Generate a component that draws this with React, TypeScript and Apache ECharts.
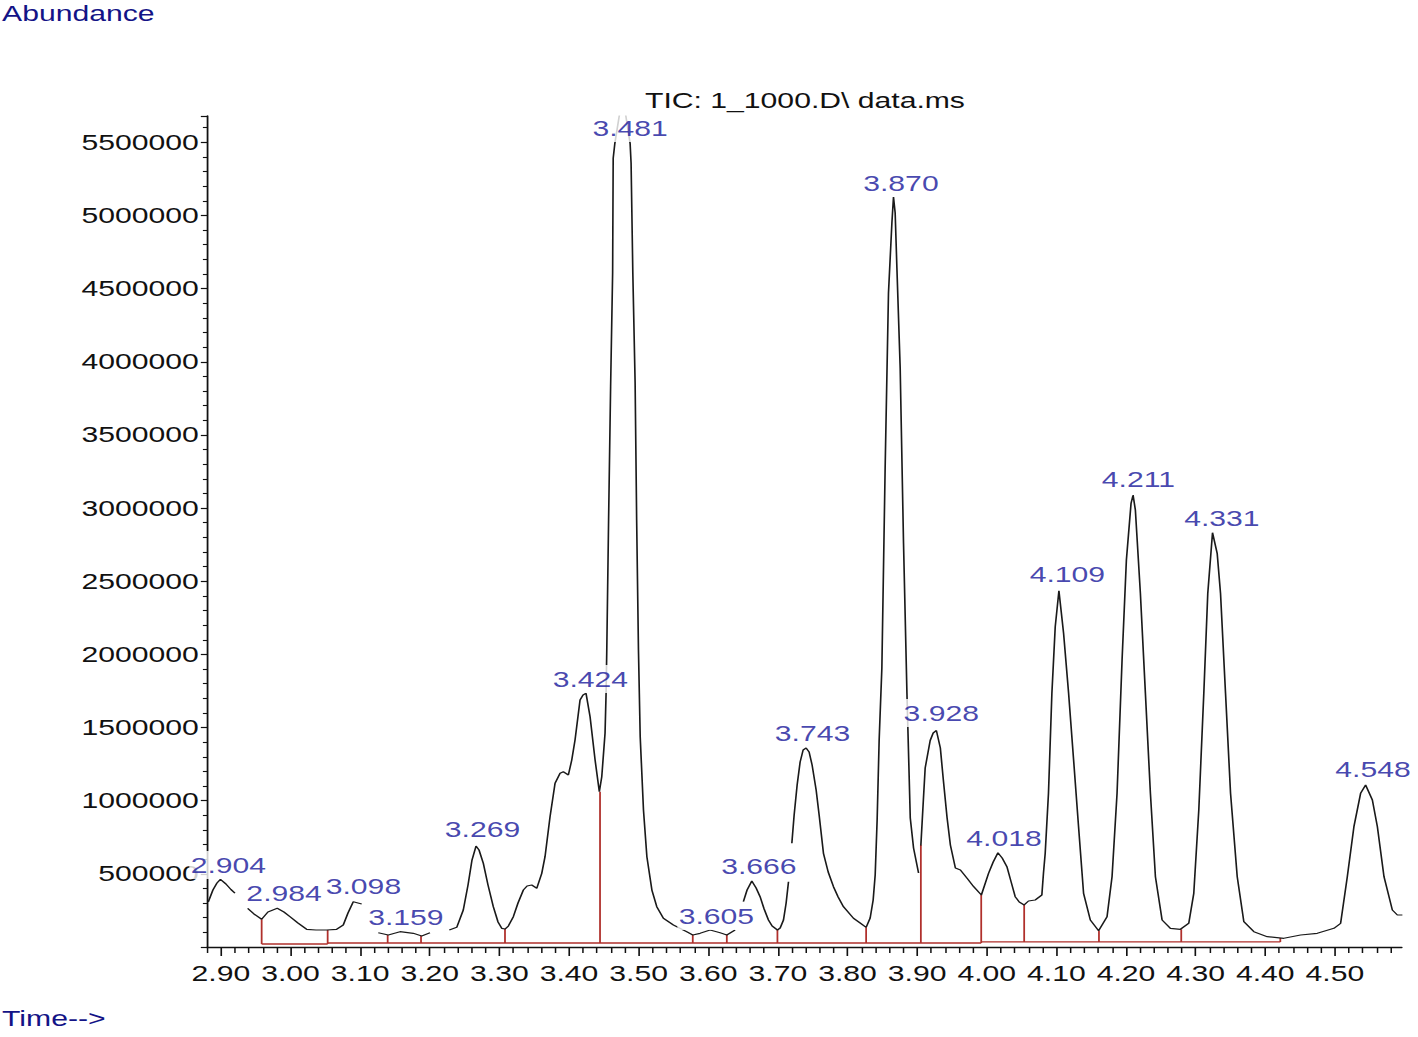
import React, { useEffect, useRef } from "react";
import * as echarts from "echarts";

// ---------- data ----------
const xMajorTicks = [2.9, 3.0, 3.1, 3.2, 3.3, 3.4, 3.5, 3.6, 3.7, 3.8, 3.9, 4.0, 4.1, 4.2, 4.3, 4.4, 4.5];
const yTickStep = 500000;

// chromatogram trace, separate drawn pieces [time, abundance]
const trace2904: [number, number][] = [
  [2.8818, 307600], [2.8885, 389600], [2.8943, 437400], [2.8993, 462700], [2.9072, 430600], [2.9144, 393000], [2.9201, 369000],
];
const trace2984: [number, number][] = [
  [2.9384, 264500], [2.9474, 225600], [2.9585, 189300], [2.9675, 239200], [2.9809, 264500], [2.9905, 239200], [2.9991, 207100],
  [3.0106, 164000], [3.0231, 121000], [3.0365, 116200], [3.0519, 116200], [3.0662, 121000], [3.0757, 150400], [3.0825, 232400],
  [3.0901, 309600], [3.1022, 293900],
];
const trace3159: [number, number][] = [
  [3.126, 97700], [3.1404, 82000], [3.1572, 104600], [3.1763, 93600], [3.1884, 75200], [3.2003, 97700],
];
const trace3269: [number, number][] = [
  [3.228, 116200], [3.2387, 134600], [3.2481, 252900], [3.2549, 423800], [3.2606, 594600], [3.2664, 690300], [3.2707, 663000],
  [3.2769, 572100], [3.2836, 423800], [3.2912, 275500], [3.298, 170900], [3.3033, 127800], [3.308, 123000], [3.3128, 143500],
  [3.32, 207100], [3.3267, 300700], [3.3344, 389600], [3.3397, 416900], [3.3464, 423800], [3.3536, 401200], [3.3608, 503700],
  [3.3655, 617200], [3.3727, 890600], [3.3799, 1118900], [3.3871, 1187200], [3.3918, 1198200], [3.399, 1175600], [3.4039, 1278100],
  [3.4086, 1414800], [3.4158, 1688200], [3.4201, 1722400], [3.4244, 1734000], [3.4302, 1574100], [3.4374, 1278100], [3.4435, 1061500],
  [3.447, 1164000], [3.4517, 1460600], [3.4532, 1734000], [3.4542, 2030000], [3.4568, 2918500], [3.4597, 3829700], [3.4626, 4606800],
  [3.4634, 5390800], [3.4658, 5493300], [3.4769, 5823400], [3.4877, 5493300], [3.4891, 5358600], [3.4916, 4606800], [3.4949, 3854900],
  [3.4971, 2918500], [3.4997, 2030000], [3.5022, 1437400], [3.5069, 936400], [3.5118, 617200], [3.519, 389600], [3.526, 275500],
  [3.5355, 196200], [3.5499, 150400], [3.5691, 104600], [3.5777, 82000], [3.5882, 93600], [3.6026, 116200], [3.617, 97700],
  [3.6266, 82000], [3.6385, 116200],
];
const trace3666: [number, number][] = [
  [3.6504, 309600], [3.6557, 389600], [3.6625, 451100], [3.6687, 403300], [3.6744, 343800], [3.6802, 259700], [3.6864, 184500],
  [3.6917, 143500], [3.6993, 116200], [3.7032, 129900], [3.708, 184500], [3.7118, 300700], [3.7152, 446300],
];
const trace3743: [number, number][] = [
  [3.72, 708800], [3.7233, 902200], [3.7276, 1107300], [3.7319, 1264500], [3.7362, 1346500], [3.7405, 1360200], [3.7448, 1332800],
  [3.7491, 1244000], [3.7549, 1073100], [3.7592, 902200], [3.7654, 640400], [3.7722, 512600], [3.7798, 412200], [3.7865, 341800],
  [3.7941, 275500], [3.8085, 196200], [3.8181, 164000], [3.8267, 134600], [3.8325, 198200], [3.8368, 321200], [3.8397, 492100],
  [3.8425, 868000], [3.8454, 1414800], [3.8493, 1907000], [3.854, 3274000], [3.8588, 4470000], [3.8637, 4948500], [3.866, 5126000],
  [3.8684, 5016900], [3.8709, 4641000], [3.8756, 3957500], [3.8804, 2761300], [3.8853, 1736000], [3.8901, 881700], [3.8948, 676700],
  [3.902, 505800],
];
const trace3928: [number, number][] = [
  [3.9053, 693800], [3.9089, 1004700], [3.9115, 1223500], [3.9187, 1411400], [3.923, 1462700], [3.9276, 1479800], [3.9333, 1360200],
  [3.9376, 1141400], [3.943, 881700], [3.9477, 697200], [3.9549, 540000], [3.9621, 526300], [3.9717, 469600], [3.9812, 412200],
  [3.9922, 355400], [4.0025, 503700], [4.0092, 581000], [4.016, 644500], [4.0221, 608300], [4.0289, 548900], [4.035, 444300],
  [4.0408, 343800], [4.0466, 307600], [4.0537, 287100], [4.0599, 314400], [4.0695, 321200], [4.0791, 355400], [4.0814, 503700],
  [4.0839, 640400], [4.0886, 1050500], [4.0935, 1734000], [4.0983, 2189200], [4.1036, 2435300], [4.1103, 2144100], [4.1175, 1734000],
  [4.1247, 1278100], [4.1318, 822200], [4.139, 367000], [4.1487, 184500], [4.1606, 111400], [4.1727, 207100], [4.1799, 480500],
  [4.1871, 1050500], [4.1943, 1961600], [4.2005, 2645100], [4.2072, 3032700], [4.2101, 3089400], [4.2134, 2986900], [4.2206, 2417500],
  [4.2278, 1734000], [4.235, 1050500], [4.2422, 480500], [4.2518, 184500], [4.2637, 127800], [4.2781, 121000], [4.2901, 162000],
  [4.2973, 367000], [4.3045, 936400], [4.3117, 1734000], [4.3174, 2417500], [4.3242, 2831700], [4.3309, 2690900], [4.3357, 2417500],
  [4.3429, 1734000], [4.3501, 1050500], [4.3597, 480500], [4.3692, 172900], [4.3836, 104600], [4.4028, 70400], [4.4267, 59500],
  [4.4507, 82000], [4.4747, 93600], [4.4986, 127800], [4.5082, 162000], [4.5178, 480500], [4.5273, 822200], [4.5369, 1050500],
  [4.5441, 1107300], [4.5538, 1004700], [4.561, 822200], [4.5705, 480500], [4.5825, 252900], [4.5897, 218700], [4.5969, 218700],
];
const traceSegments = [trace2904, trace2984, trace3159, trace3269, trace3666, trace3743, trace3928];

// integration baselines [from, to, abundance] and drop lines [time, top abundance]
const baselineSegments: [number, number, number][] = [
  [2.9585, 3.0533, 20500], [3.0533, 3.992, 27300], [3.992, 4.4216, 35000],
];
const dropLines: [number, number][] = [
  [2.9585, 189300], [3.0533, 116200], [3.1395, 82000], [3.1874, 75200], [3.308, 123000], [3.4445, 1061500],
  [3.5777, 82000], [3.6266, 82000], [3.6993, 116200], [3.8267, 134600], [3.9053, 697200], [3.992, 355400],
  [4.0537, 287100], [4.1611, 111400], [4.2793, 121000], [4.4216, 61500],
];

// peak retention-time labels
const peakNames = ["2.904", "2.984", "3.098", "3.159", "3.269", "3.424", "3.481", "3.605", "3.666", "3.743", "3.870", "3.928", "4.018", "4.109", "4.211", "4.331", "4.548"];
const peakTimes = [2.904, 2.984, 3.098, 3.159, 3.269, 3.424, 3.481, 3.605, 3.666, 3.743, 3.870, 3.928, 4.018, 4.109, 4.211, 4.331, 4.548];
const peakHeights = [454500, 263100, 311000, 99100, 700600, 1725800, 5491900, 105900, 447700, 1356700, 5116000, 1493400, 639100, 2443500, 3092800, 2826300, 1110700];

// ---------- layout ----------
const W = 1418;
const H = 1037;
const S = 1.37; // horizontal stretch of the original plot
const IW = W / S;
const FONT = 'Arial, "Liberation Sans", Helvetica, sans-serif';
const LABEL_BLUE = "#17179a";
const TITLE_BLUE = "#131386";
const RED = "#b0302c";

function buildOption() {
  const curve: any[] = [];
  traceSegments.forEach((seg, i) => {
    if (i > 0) curve.push([seg[0][0] - 0.0005, null]);
    seg.forEach((p) => curve.push(p));
  });

  const red: any[] = [];
  baselineSegments.forEach(([a, b, v]) => {
    red.push([a, v], [b, v], [b + 0.00001, null]);
  });
  dropLines.forEach(([t, top]) => {
    const bases = baselineSegments.filter(([a, b]) => t >= a - 1e-6 && t <= b + 1e-6).map((s) => s[2]);
    const base = bases.length ? Math.min(...bases) : 0;
    red.push([t, base], [t, top], [t + 0.00001, null]);
  });

  const minorTicks: number[] = [];
  for (let k = 0; k <= 85; k++) {
    const v = Math.round((2.88 + k * 0.02) * 100) / 100;
    if (Math.abs(v * 10 - Math.round(v * 10)) > 1e-6) minorTicks.push(v);
  }

  const xMin = 2.88;
  const xMax = 4.596;

  return {
    animation: false,
    backgroundColor: "#ffffff",
    grid: { left: 207 / S, right: IW - 1401.8 / S, top: 116, bottom: 90 },
    xAxis: [
      {
        type: "value",
        min: xMin,
        max: xMax,
        axisLine: { show: true, lineStyle: { color: "#111", width: 1.3 } },
        axisTick: { show: true, customValues: xMajorTicks, length: 9, lineStyle: { color: "#111", width: 1.2 } },
        axisLabel: {
          show: true,
          customValues: xMajorTicks,
          formatter: (v: number) => v.toFixed(2),
          color: "#111",
          fontSize: 22,
          fontFamily: FONT,
          margin: 15,
        },
        splitLine: { show: false },
      },
      {
        type: "value",
        min: xMin,
        max: xMax,
        position: "bottom",
        axisLine: { show: false },
        axisTick: { show: true, customValues: minorTicks, length: 6, lineStyle: { color: "#111", width: 1.1 } },
        axisLabel: { show: false },
        splitLine: { show: false },
      },
    ],
    yAxis: {
      type: "value",
      min: 0,
      max: 5680000,
      interval: yTickStep,
      axisLine: { show: true, lineStyle: { color: "#111", width: 1.3 } },
      axisTick: { show: true, length: 4.5, lineStyle: { color: "#111", width: 1.2 } },
      minorTick: { show: true, splitNumber: 5, length: 3, lineStyle: { color: "#111", width: 1.1 } },
      axisLabel: {
        showMaxLabel: false,
        formatter: (v: number) => (v === 0 || v % yTickStep !== 0 ? "" : String(v)),
        color: "#111",
        fontSize: 22,
        fontFamily: FONT,
        margin: 6,
      },
      splitLine: { show: false },
      minorSplitLine: { show: false },
    },
    graphic: [
      {
        type: "text",
        x: 1.5,
        y: 13,
        style: { text: "Abundance", fill: TITLE_BLUE, fontSize: 22, fontFamily: FONT, align: "left", verticalAlign: "middle" },
      },
      {
        type: "text",
        x: 805 / S,
        y: 100,
        style: { text: "TIC: 1_1000.D\\ data.ms", fill: "#111", fontSize: 22, fontFamily: FONT, align: "center", verticalAlign: "middle" },
      },
      {
        type: "text",
        x: 1.5,
        y: 1018,
        style: { text: "Time-->", fill: TITLE_BLUE, fontSize: 22, fontFamily: FONT, align: "left", verticalAlign: "middle" },
      },
    ],
    series: [
      {
        type: "line",
        name: "baseline",
        data: red,
        showSymbol: false,
        connectNulls: false,
        lineStyle: { color: RED, width: 1.3 },
        z: 2,
        silent: true,
      },
      {
        type: "line",
        name: "TIC",
        data: curve,
        showSymbol: false,
        connectNulls: false,
        lineStyle: { color: "#1a1a1a", width: 1.2 },
        z: 3,
        silent: true,
      },
      {
        type: "scatter",
        name: "peaks",
        symbolSize: 0,
        clip: false,
        z: 5,
        silent: true,
        data: peakNames.map((n, i) => ({ name: n, value: [peakTimes[i], peakHeights[i]] })),
        label: {
          show: true,
          position: "top",
          distance: 1.5,
          offset: [3.4, 0],
          formatter: "{b}",
          color: LABEL_BLUE,
          fontSize: 22,
          fontFamily: FONT,
          lineHeight: 22,
          backgroundColor: "#ffffff",
          padding: [3, 1],
        },
      },
    ],
  };
}

export default function App() {
  const ref = useRef<HTMLDivElement>(null);
  useEffect(() => {
    if (!ref.current) return;
    const chart = echarts.init(ref.current, null, { renderer: "svg" });
    chart.setOption(buildOption() as any);
    return () => chart.dispose();
  }, []);
  return (
    <div style={{ position: "fixed", left: 0, top: 0, width: W, height: H, overflow: "hidden", background: "#fff" }}>
      <div
        ref={ref}
        style={{ width: IW, height: H, transform: `scaleX(${S})`, transformOrigin: "0 0" }}
      />
    </div>
  );
}
